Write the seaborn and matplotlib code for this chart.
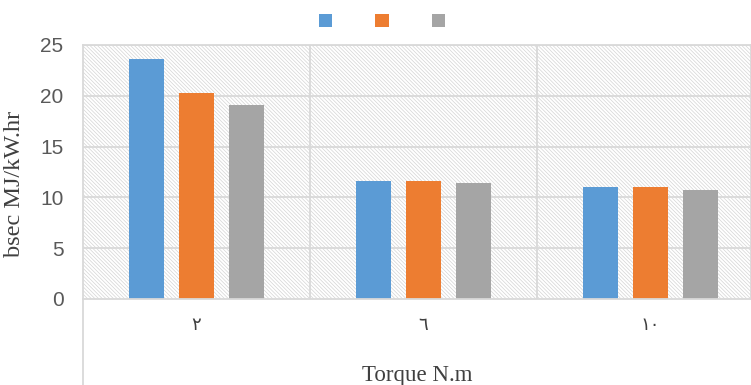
import matplotlib
matplotlib.use("Agg")
import matplotlib.pyplot as plt
from matplotlib.patches import Rectangle
from matplotlib.lines import Line2D
import seaborn as sns
import pandas as pd

# Torque levels (Arabic-Indic numerals) and bsec values for three fuel series
torque_labels = ["٢", "٦", "١٠"]
series_names = ["series 1", "series 2", "series 3"]
series_1 = [23.6, 11.6, 11.0]
series_2 = [20.3, 11.6, 11.0]
series_3 = [19.1, 11.4, 10.7]
colors = ["#5B9BD5", "#ED7D31", "#A5A5A5"]
y_ticks = [0, 5, 10, 15, 20, 25]

rows = []
for name, vals in zip(series_names, [series_1, series_2, series_3]):
    for t, v in zip(torque_labels, vals):
        rows.append({"torque": t, "series": name, "bsec": v})
df = pd.DataFrame(rows)

sns.set_theme(style="white")
plt.rcParams["hatch.linewidth"] = 0.5
W, H = 751, 385
fig = plt.figure(figsize=(W / 100, H / 100), dpi=100)
ax = fig.add_axes([83 / W, 1 - 299 / H, (751 - 83) / W, (299 - 45) / H])

# Hatched plot-area background
bg = Rectangle((0, 0), 1, 1, transform=ax.transAxes, facecolor="white",
               edgecolor="#d4d4d4", hatch="\\" * 9, linewidth=0, zorder=0)
ax.add_patch(bg)

sns.barplot(data=df, x="torque", y="bsec", hue="series", order=torque_labels,
            hue_order=series_names, palette=colors, width=0.66, gap=0.3,
            saturation=1, ax=ax, zorder=3, legend=False, edgecolor="none")

cat_w = 227.0
ax.set_xlim(-0.5, -0.5 + (751 - 83) / cat_w)
ax.set_ylim(0, 25)
ax.set_yticks(y_ticks)

# Gridlines: horizontal every 5, vertical at category boundaries
for y in y_ticks[1:]:
    ax.axhline(y, color="#d9d9d9", lw=1.3, zorder=1)
for xb in [0.5, 1.5, 2.5]:
    ax.axvline(xb, color="#d9d9d9", lw=1.3, zorder=1)

for s in ax.spines.values():
    s.set_color("#d9d9d9")
    s.set_linewidth(1.3)
ax.spines["bottom"].set_zorder(4)

ax.tick_params(axis="both", length=0)
ax.tick_params(axis="y", pad=14, labelcolor="#595959")
ax.tick_params(axis="x", pad=13, labelcolor="#404040")
for lab in ax.get_yticklabels():
    lab.set_family(["Liberation Sans Narrow", "Liberation Sans", "DejaVu Sans"])
    lab.set_fontsize(15)
for lab in ax.get_xticklabels():
    lab.set_family(["Liberation Serif", "DejaVu Sans"])
    lab.set_fontsize(13)

ax.set_xlabel("Torque N.m", family=["Liberation Serif", "DejaVu Serif"],
              fontsize=16.5, color="#404040", labelpad=22)
ax.set_ylabel("bsec MJ/kW.hr", family=["Liberation Serif", "DejaVu Serif"],
              fontsize=17.5, color="#404040")
ax.yaxis.set_label_coords((25 - 83) / (751 - 83), (299 - 184) / (299 - 45))

# Left border continues below the category axis
fig.add_artist(Line2D([83 / W, 83 / W], [0, 1 - 299 / H], color="#d9d9d9",
                      lw=1.3, transform=fig.transFigure))

# Legend with colour keys only
handles = [Rectangle((0, 0), 1, 1, facecolor=c, edgecolor="none") for c in colors]
fig.legend(handles, ["", "", ""], loc="center", ncol=3, frameon=False,
           bbox_to_anchor=(382 / W, 1 - 21 / H), fontsize=10,
           handlelength=0.95, handleheight=1.1, handletextpad=0.0,
           columnspacing=3.1)

fig.savefig("out.png", dpi=100)
